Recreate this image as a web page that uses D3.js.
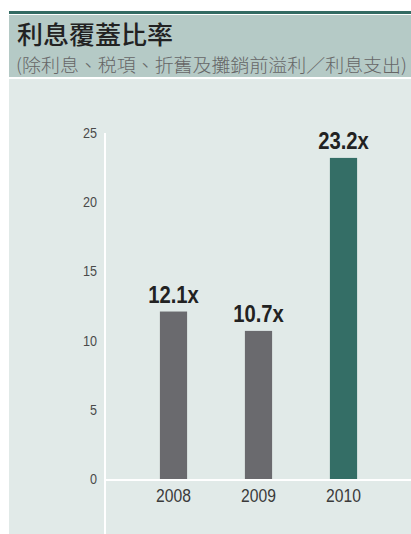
<!DOCTYPE html>
<html lang="zh-Hant">
<head>
  <meta charset="UTF-8" />
  <title>利息覆蓋比率</title>
  <script src="https://d3js.org/d3.v7.min.js"></script>
  <style>
    html, body { margin: 0; padding: 0; background: #fff; }
    svg { display: block; }
    .tick-label { font-family: "Liberation Sans", sans-serif; font-size: 14px; fill: #4a4a4a; }
    .year-label { font-family: "Liberation Sans", sans-serif; font-size: 18px; fill: #3a3a3a; }
    .value-label { font-family: "Liberation Sans", sans-serif; font-size: 23px; font-weight: bold; fill: #222; }
    .title { font-family: "Noto Sans CJK TC", sans-serif; font-size: 24.5px; font-weight: 500; fill: #222; }
    .subtitle { font-family: "Noto Sans CJK TC", sans-serif; font-size: 18px; font-weight: 300; fill: #666; }
  </style>
</head>
<body>
  <svg id="chart"></svg>
  <script>
    const years = ["2008", "2009", "2010"];
    const ratios = [12.1, 10.7, 23.2];
    const valueLabels = ["12.1x", "10.7x", "23.2x"];
    const yTicks = [0, 5, 10, 15, 20, 25];

    const width = 411;
    const height = 534;

    const svg = d3.select("#chart")
      .attr("width", width)
      .attr("height", height);

    // header strip
    svg.append("rect").attr("x", 9).attr("y", 11).attr("width", width - 9).attr("height", 3).attr("fill", "#336b63");
    svg.append("rect").attr("x", 9).attr("y", 15).attr("width", width - 9).attr("height", 62).attr("fill", "#b5cac6");
    svg.append("rect").attr("x", 9).attr("y", 79).attr("width", width - 9).attr("height", height - 79).attr("fill", "#e1eae8");

    svg.append("text").attr("class", "title").attr("x", 17).attr("y", 44)
      .attr("textLength", 156).attr("lengthAdjust", "spacingAndGlyphs")
      .text("利息覆蓋比率");
    svg.append("text").attr("class", "subtitle").attr("x", 16).attr("y", 72)
      .attr("textLength", 391).attr("lengthAdjust", "spacingAndGlyphs")
      .text("(除利息、税項、折舊及攤銷前溢利／利息支出)");

    const y = d3.scaleLinear().domain([0, 25]).range([479, 133]);
    const x = d3.scaleBand().domain(years).range([131, 386]).paddingInner(0.68).paddingOuter(0.34);

    // axis lines
    svg.append("line").attr("x1", 105).attr("x2", 105).attr("y1", y(25)).attr("y2", height)
      .attr("stroke", "#fff").attr("stroke-width", 2);
    svg.append("line").attr("x1", 105).attr("x2", width).attr("y1", y(0) + 1).attr("y2", y(0) + 1)
      .attr("stroke", "#fff").attr("stroke-width", 2);

    svg.selectAll(".tick-label")
      .data(yTicks)
      .enter()
      .append("text")
      .attr("class", "tick-label")
      .attr("transform", d => `translate(97,${y(d) + 5}) scale(0.9,1)`)
      .attr("text-anchor", "end")
      .text(d => d);

    const data = years.map((yr, i) => ({ year: yr, value: ratios[i], label: valueLabels[i] }));

    svg.selectAll(".bar")
      .data(data)
      .enter()
      .append("rect")
      .attr("class", "bar")
      .attr("x", d => x(d.year))
      .attr("width", x.bandwidth())
      .attr("y", d => y(d.value))
      .attr("height", d => y(0) - y(d.value))
      .attr("fill", (d, i) => i === data.length - 1 ? "#346e66" : "#6a6a6e");

    svg.selectAll(".value-label")
      .data(data)
      .enter()
      .append("text")
      .attr("class", "value-label")
      .attr("transform", d => `translate(${x(d.year) + x.bandwidth() / 2},${y(d.value) - 9}) scale(0.88,1)`)
      .attr("text-anchor", "middle")
      .text(d => d.label);

    svg.selectAll(".year-label")
      .data(data)
      .enter()
      .append("text")
      .attr("class", "year-label")
      .attr("transform", d => `translate(${x(d.year) + x.bandwidth() / 2},502) scale(0.87,1)`)
      .attr("text-anchor", "middle")
      .text(d => d.year);
  </script>
</body>
</html>
